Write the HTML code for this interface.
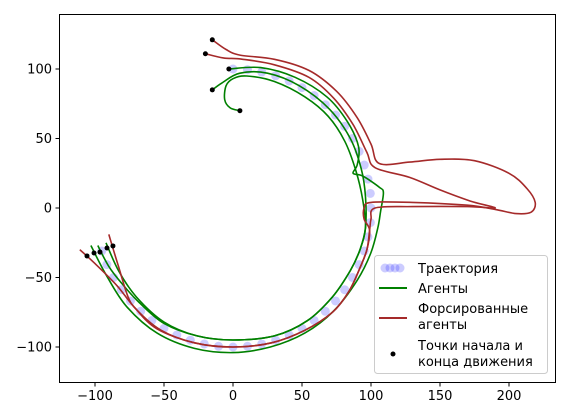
<!DOCTYPE html>
<html><head><meta charset="utf-8"><style>
html,body{margin:0;padding:0;background:#fff;}
svg{display:block;font-family:"DejaVu Sans","Liberation Sans","Noto Sans CJK SC",sans-serif;}
</style></head><body>
<svg id="chart" width="567" height="416" viewBox="0 0 567 416" xmlns="http://www.w3.org/2000/svg">
<rect width="567" height="416" fill="#fff"/>
<g id="plot"></g>
<rect x="59.5" y="14.5" width="496" height="368" fill="none" stroke="#000" stroke-width="1"/>
<g id="axes"></g>
<g>
<rect x="374.5" y="255.5" width="173" height="118" rx="3" fill="#fff" fill-opacity="0.85" stroke="#ccc"/>
<g>
<circle cx="385" cy="268" r="4.5" fill="rgba(0,0,255,0.2)"/><circle cx="390" cy="268" r="4.5" fill="rgba(0,0,255,0.2)"/><circle cx="395" cy="268" r="4.5" fill="rgba(0,0,255,0.2)"/><circle cx="400" cy="268" r="4.5" fill="rgba(0,0,255,0.2)"/>
<text x="418" y="273" font-size="13">Траектория</text></g>
<g>
<line x1="379" y1="288" x2="407" y2="288" stroke="#008000" stroke-width="2"/>
<text x="418" y="293" font-size="13">Агенты</text></g>
<g>
<line x1="379" y1="318" x2="407" y2="318" stroke="#a52a2a" stroke-width="2"/>
<text x="418" y="313" font-size="13">Форсированные</text>
<text x="418" y="329" font-size="13">агенты</text></g>
<g>
<circle cx="393" cy="354" r="2.5" fill="#000"/>
<text x="418" y="350" font-size="13">Точки начала и</text>
<text x="418" y="366" font-size="13">конца движения</text></g>
</g>
</svg>
<script>
const xTicks=[-100,-50,0,50,100,150,200];
const yTicks=[-100,-50,0,50,100];
const trajX=[0,10.5,20.8,30.9,40.7,50,58.8,66.9,74.3,80.9,86.6,91.4,95.1,97.8,99.5,100,99.5,97.8,95.1,91.4,86.6,80.9,74.3,66.9,58.8,50,40.7,30.9,20.8,10.5,0,-10.5,-20.8,-30.9,-40.7,-50,-58.8,-66.9,-74.3,-80.9,-86.6,-91.4,-95.1];
const trajY=[100,99.5,97.8,95.1,91.4,86.6,80.9,74.3,66.9,58.8,50,40.7,30.9,20.8,10.5,0,-10.5,-20.8,-30.9,-40.7,-50,-58.8,-66.9,-74.3,-80.9,-86.6,-91.4,-95.1,-97.8,-99.5,-100,-99.5,-97.8,-95.1,-91.4,-86.6,-80.9,-74.3,-66.9,-58.8,-50,-40.7,-30.9];
const agent1=[[-3,100],[20,101],[45,94],[68,80],[83,62],[91,44],[90,31],[87,25],[94,23],[106,15],[109,11],[107,-2],[105,-14],[100,-32],[90,-52],[73,-74],[52,-90],[27,-100],[0,-104],[-28,-101],[-55,-90],[-77,-71],[-92,-48],[-103,-27]];
const agent2=[[-15,85],[-8,90],[5,97],[25,97],[48,88],[70,71],[85,50],[93,28],[96,8],[96,-14],[92,-30],[85,-45],[72,-64],[54,-81],[30,-92],[0,-95],[-26,-92],[-50,-82],[-70,-64],[-83,-45],[-92,-25]];
const agent3=[[5,70],[-2,72],[-6,78],[-5,88],[0,93],[10,95],[30,91],[52,80],[69,66],[81,48],[89,27],[94,6],[96,-14],[92,-30],[85,-45],[72,-64],[54,-81],[30,-92],[0,-95],[-26,-92],[-50,-83],[-68,-68],[-80,-55],[-90,-42],[-98,-27]];
const forced1=[[-15,121],[-5,114],[5,110],[30,107],[55,99],[75,84],[90,65],[100,46],[106,32],[128,33],[150,35],[175,34],[200,25],[213,14],[219,4],[216,-3],[205,-4],[190,-1],[170,2],[130,4],[100,4],[95,0],[95,-8],[99,-16],[97,-30],[92,-43],[84,-60],[72,-75],[52,-88],[28,-97],[0,-100],[-28,-97],[-55,-87],[-70,-73],[-76,-64],[-83,-42],[-90,-19]];
const forced2=[[-20,111],[-7,108],[7,107],[30,103],[55,94],[73,79],[87,60],[97,40],[103,29],[128,22],[150,13],[172,5],[190,0],[170,1],[130,1],[103,0],[100,-8],[99,-16],[97,-30],[92,-43],[84,-60],[72,-75],[52,-88],[28,-97],[0,-100],[-28,-97],[-52,-88],[-70,-73],[-84,-56],[-100,-40],[-111,-30]];
const pointsX=[-15,-20,-3,-15,5,-105.8,-100.7,-96.4,-91.3,-87];
const pointsY=[121,111,100,85,70,-34.5,-32.4,-31.7,-28.8,-27.3];

const NS="http://www.w3.org/2000/svg";
function sx(v){return 233+1.38*v;}
function sy(v){return 208-1.39*v;}
function mk(tag,attrs,parent){const e=document.createElementNS(NS,tag);for(const k in attrs)e.setAttribute(k,attrs[k]);parent.appendChild(e);return e;}
const plot=document.getElementById('plot');
const axes=document.getElementById('axes');
const clip=mk('clipPath',{id:'clp'},plot);mk('rect',{x:59.5,y:14.5,width:496,height:368},clip);
const g=mk('g',{'clip-path':'url(#clp)'},plot);

for(let i=0;i<trajX.length;i++){
  const c=mk('circle',{cx:sx(trajX[i]),cy:sy(trajY[i]),r:4.5,fill:'rgba(0,0,255,0.2)'},g);
  
  
}
function smooth(pts){
  const p=pts.map(q=>[sx(q[0]),sy(q[1])]);
  let d='M'+p[0][0].toFixed(1)+','+p[0][1].toFixed(1);
  for(let i=0;i<p.length-1;i++){
    const p0=p[Math.max(0,i-1)],p1=p[i],p2=p[i+1],p3=p[Math.min(p.length-1,i+2)];
    const c1=[p1[0]+(p2[0]-p0[0])/6,p1[1]+(p2[1]-p0[1])/6];
    const c2=[p2[0]-(p3[0]-p1[0])/6,p2[1]-(p3[1]-p1[1])/6];
    d+=' C'+c1[0].toFixed(1)+','+c1[1].toFixed(1)+' '+c2[0].toFixed(1)+','+c2[1].toFixed(1)+' '+p2[0].toFixed(1)+','+p2[1].toFixed(1);
  }
  return d;
}
[agent1,agent2,agent3].forEach(a=>{
  const e=mk('path',{d:smooth(a),fill:'none',stroke:'#008000','stroke-width':1.6},g);
  
  
});
[forced1,forced2].forEach(a=>{
  const e=mk('path',{d:smooth(a),fill:'none',stroke:'#a52a2a','stroke-width':1.6},g);
  
  
});
for(let i=0;i<pointsX.length;i++){
  const c=mk('circle',{cx:sx(pointsX[i]),cy:sy(pointsY[i]),r:2.5,fill:'#000'},g);
  
  
}
xTicks.forEach(t=>{
  const x=sx(t);
  mk('line',{x1:x,y1:382.5,x2:x,y2:386.5,stroke:'#000'},axes);
  const tx=mk('text',{x:x,y:400,'font-size':13,'text-anchor':'middle'},axes);
  tx.textContent=t<0?'\u2212'+(-t):String(t);
  
  
});
yTicks.forEach(t=>{
  const y=sy(t);
  mk('line',{x1:55.5,y1:y,x2:59.5,y2:y,stroke:'#000'},axes);
  const tx=mk('text',{x:52,y:y+4.5,'font-size':13,'text-anchor':'end'},axes);
  tx.textContent=t<0?'\u2212'+(-t):String(t);
  
  
});
</script>
</body></html>
